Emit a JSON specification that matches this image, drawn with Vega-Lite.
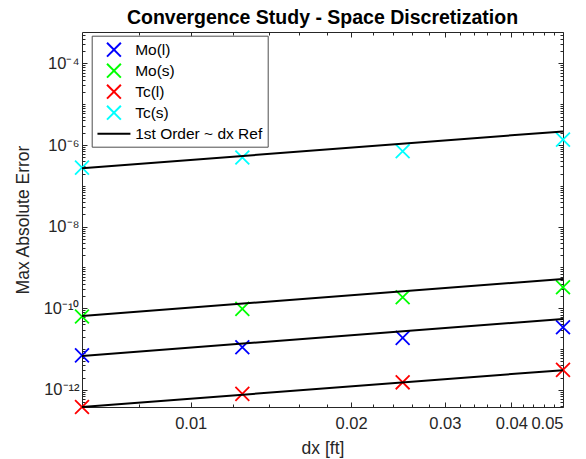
{
  "$schema": "https://vega.github.io/schema/vega-lite/v6.json",
  "width": 481,
  "height": 375,
  "autosize": {"type": "none"},
  "padding": {"left": 82, "top": 32, "right": 23, "bottom": 52},
  "background": "white",
  "title": {
    "text": "Convergence Study - Space Discretization",
    "font": "Liberation Sans",
    "fontSize": 19.5,
    "fontWeight": "bold",
    "color": "black",
    "anchor": "middle",
    "offset": 3
  },
  "datasets": {
    "pts": [
      {"dx": 0.00625, "err": 7.0e-12, "series": "Mo(l)"},
      {"dx": 0.0125, "err": 1.11e-11, "series": "Mo(l)"},
      {"dx": 0.025, "err": 1.88e-11, "series": "Mo(l)"},
      {"dx": 0.05, "err": 3.42e-11, "series": "Mo(l)"},
      {"dx": 0.00625, "err": 6.3e-11, "series": "Mo(s)"},
      {"dx": 0.0125, "err": 9.66e-11, "series": "Mo(s)"},
      {"dx": 0.025, "err": 1.86e-10, "series": "Mo(s)"},
      {"dx": 0.05, "err": 3.27e-10, "series": "Mo(s)"},
      {"dx": 0.00625, "err": 3.8e-13, "series": "Tc(l)"},
      {"dx": 0.0125, "err": 7.98e-13, "series": "Tc(l)"},
      {"dx": 0.025, "err": 1.53e-12, "series": "Tc(l)"},
      {"dx": 0.05, "err": 3.09e-12, "series": "Tc(l)"},
      {"dx": 0.00625, "err": 2.8e-7, "series": "Tc(s)"},
      {"dx": 0.0125, "err": 4.94e-7, "series": "Tc(s)"},
      {"dx": 0.025, "err": 7.05e-7, "series": "Tc(s)"},
      {"dx": 0.05, "err": 1.36e-6, "series": "Tc(s)"}
    ],
    "ref": [
      {"dx": 0.00625, "err": 6.8e-12, "series": "1st Order ~ dx Ref", "line": "Mo(l)"},
      {"dx": 0.05, "err": 5.44e-11, "series": "1st Order ~ dx Ref", "line": "Mo(l)"},
      {"dx": 0.00625, "err": 6.5e-11, "series": "1st Order ~ dx Ref", "line": "Mo(s)"},
      {"dx": 0.05, "err": 5.2e-10, "series": "1st Order ~ dx Ref", "line": "Mo(s)"},
      {"dx": 0.00625, "err": 3.8e-13, "series": "1st Order ~ dx Ref", "line": "Tc(l)"},
      {"dx": 0.05, "err": 3.04e-12, "series": "1st Order ~ dx Ref", "line": "Tc(l)"},
      {"dx": 0.00625, "err": 2.7e-7, "series": "1st Order ~ dx Ref", "line": "Tc(s)"},
      {"dx": 0.05, "err": 2.16e-6, "series": "1st Order ~ dx Ref", "line": "Tc(s)"}
    ]
  },
  "resolve": {"axis": {"x": "independent", "y": "independent"}},
  "layer": [
    {
      "data": {"name": "pts"},
      "mark": {"type": "point", "filled": false, "size": 272, "strokeWidth": 1.8, "opacity": 1},
      "encoding": {
        "x": {
          "field": "dx", "type": "quantitative",
          "scale": {"type": "log", "domain": [0.00625, 0.05], "nice": false},
          "axis": {"orient": "bottom", "values": [0.01, 0.02, 0.03, 0.04, 0.05], "format": ".2f", "tickSize": -5, "labelPadding": 13, "title": "dx [ft]", "titlePadding": 8}
        },
        "y": {
          "field": "err", "type": "quantitative",
          "scale": {"type": "log", "domain": [3.8e-13, 5.9e-4], "nice": false},
          "axis": {
            "orient": "left",
            "values": [1e-12, 1e-10, 1e-8, 1e-6, 1e-4],
            "tickSize": -5,
            "labelPadding": 8,
            "labelExpr": "'10' + replace(replace(replace(replace(replace(replace(replace('' + round(log(datum.value) / LN10), '-', '⁻'), '1', '¹'), '2', '²'), '4', '⁴'), '6', '⁶'), '8', '⁸'), '0', '⁰')",
            "title": "Max Absolute Error",
            "titlePadding": 11
          }
        },
        "shape": {
          "field": "series", "type": "nominal",
          "scale": {"domain": ["Mo(l)", "Mo(s)", "Tc(l)", "Tc(s)", "1st Order ~ dx Ref"], "range": ["M-0.84,-0.84L0.84,0.84M0.84,-0.84L-0.84,0.84", "M-0.84,-0.84L0.84,0.84M0.84,-0.84L-0.84,0.84", "M-0.84,-0.84L0.84,0.84M0.84,-0.84L-0.84,0.84", "M-0.84,-0.84L0.84,0.84M0.84,-0.84L-0.84,0.84", "M-2,0L2,0"]}
        },
        "color": {
          "field": "series", "type": "nominal",
          "scale": {"domain": ["Mo(l)", "Mo(s)", "Tc(l)", "Tc(s)", "1st Order ~ dx Ref"], "range": ["#0000ff", "#00ff00", "#ff0000", "#00ffff", "#000000"]},
          "legend": {
            "orient": "none",
            "legendX": 9.7,
            "legendY": 3.7,
            "title": null,
            "strokeColor": "#4d4d4d",
            "fillColor": "white",
            "padding": 4.5,
            "labelFont": "Liberation Sans",
            "labelFontSize": 15.5,
            "labelColor": "black",
            "labelOffset": 11.7,
            "symbolSize": 272,
            "symbolOffset": 8.25,
            "symbolStrokeWidth": 2,
            "rowPadding": -2.4
          }
        }
      }
    },
    {
      "data": {"name": "ref"},
      "mark": {"type": "line", "strokeWidth": 2},
      "encoding": {
        "x": {"field": "dx", "type": "quantitative", "axis": {"orient": "top", "values": [0.01, 0.02, 0.03, 0.04, 0.05], "tickSize": -5, "labels": false, "title": null}},
        "y": {"field": "err", "type": "quantitative", "axis": {"orient": "right", "values": [1e-12, 1e-10, 1e-8, 1e-6, 1e-4], "tickSize": -5, "labels": false, "title": null}},
        "color": {"field": "series", "type": "nominal"},
        "detail": {"field": "line"}
      }
    },
    {
      "data": {"name": "pts"},
      "mark": {"type": "point", "opacity": 0},
      "encoding": {
        "x": {"field": "dx", "type": "quantitative", "axis": {"orient": "bottom", "values": [0.008, 0.012, 0.014, 0.016, 0.018, 0.022, 0.024, 0.026, 0.028, 0.032, 0.034, 0.036, 0.038, 0.042, 0.044, 0.046, 0.048], "tickSize": -3, "labels": false, "title": null}},
        "y": {"field": "err", "type": "quantitative", "axis": {"orient": "left", "values": [4e-13, 5e-13, 6e-13, 7e-13, 8e-13, 9e-13, 2e-12, 3e-12, 4e-12, 5e-12, 6e-12, 7e-12, 8e-12, 9e-12, 1e-11, 2e-11, 3e-11, 4e-11, 5e-11, 6e-11, 7e-11, 8e-11, 9e-11, 2e-10, 3e-10, 4e-10, 5e-10, 6e-10, 7e-10, 8e-10, 9e-10, 1e-9, 2e-9, 3e-9, 4e-9, 5e-9, 6e-9, 7e-9, 8e-9, 9e-9, 2e-8, 3e-8, 4e-8, 5e-8, 6e-8, 7e-8, 8e-8, 9e-8, 1e-7, 2e-7, 3e-7, 4e-7, 5e-7, 6e-7, 7e-7, 8e-7, 9e-7, 2e-6, 3e-6, 4e-6, 5e-6, 6e-6, 7e-6, 8e-6, 9e-6, 1e-5, 2e-5, 3e-5, 4e-5, 5e-5, 6e-5, 7e-5, 8e-5, 9e-5, 2e-4, 3e-4, 4e-4, 5e-4], "tickSize": -3, "labels": false, "title": null}}
      }
    },
    {
      "data": {"name": "pts"},
      "mark": {"type": "point", "opacity": 0},
      "encoding": {
        "x": {"field": "dx", "type": "quantitative", "axis": {"orient": "top", "values": [0.008, 0.012, 0.014, 0.016, 0.018, 0.022, 0.024, 0.026, 0.028, 0.032, 0.034, 0.036, 0.038, 0.042, 0.044, 0.046, 0.048], "tickSize": -3, "labels": false, "title": null}},
        "y": {"field": "err", "type": "quantitative", "axis": {"orient": "right", "values": [4e-13, 5e-13, 6e-13, 7e-13, 8e-13, 9e-13, 2e-12, 3e-12, 4e-12, 5e-12, 6e-12, 7e-12, 8e-12, 9e-12, 1e-11, 2e-11, 3e-11, 4e-11, 5e-11, 6e-11, 7e-11, 8e-11, 9e-11, 2e-10, 3e-10, 4e-10, 5e-10, 6e-10, 7e-10, 8e-10, 9e-10, 1e-9, 2e-9, 3e-9, 4e-9, 5e-9, 6e-9, 7e-9, 8e-9, 9e-9, 2e-8, 3e-8, 4e-8, 5e-8, 6e-8, 7e-8, 8e-8, 9e-8, 1e-7, 2e-7, 3e-7, 4e-7, 5e-7, 6e-7, 7e-7, 8e-7, 9e-7, 2e-6, 3e-6, 4e-6, 5e-6, 6e-6, 7e-6, 8e-6, 9e-6, 1e-5, 2e-5, 3e-5, 4e-5, 5e-5, 6e-5, 7e-5, 8e-5, 9e-5, 2e-4, 3e-4, 4e-4, 5e-4], "tickSize": -3, "labels": false, "title": null}}
      }
    }
  ],
  "config": {
    "view": {"stroke": "#262626", "strokeWidth": 1},
    "axis": {
      "domain": false,
      "grid": false,
      "ticks": true,
      "tickColor": "#262626",
      "tickWidth": 1,
      "labelColor": "#262626",
      "labelFont": "Liberation Sans",
      "labelFontSize": 16.5,
      "titleFont": "Liberation Sans",
      "titleFontSize": 17.5,
      "titleFontWeight": "normal",
      "titleColor": "#262626"
    }
  }
}
